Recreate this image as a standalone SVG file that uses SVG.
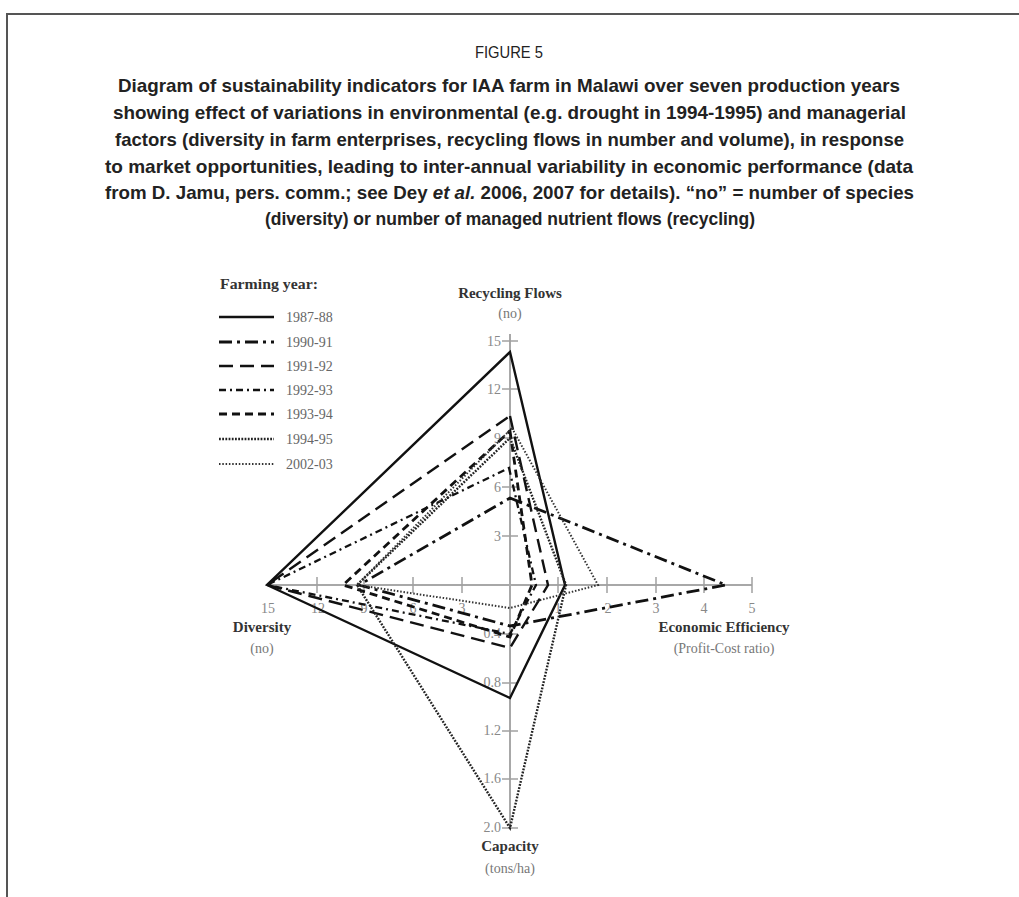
<svg xmlns="http://www.w3.org/2000/svg" width="1019" height="897" viewBox="0 0 1019 897">
<style>
.frame{stroke:#555;stroke-width:2;fill:none}
.cap{font-family:"Liberation Sans",Arial,sans-serif;font-size:18.5px;font-weight:bold;fill:#222}
.fig{font-family:"Liberation Sans",Arial,sans-serif;font-size:17px;fill:#222}
.axis{stroke:#a8a8a8;stroke-width:2;fill:none}
.tick{stroke:#a0a0a0;stroke-width:1.5;fill:none}
.tl{font-family:"Liberation Serif","Times New Roman",serif;font-size:14px;fill:#888}
.at{font-family:"Liberation Serif","Times New Roman",serif;font-size:15px;font-weight:bold;fill:#333;text-anchor:middle}
.au{font-family:"Liberation Serif","Times New Roman",serif;font-size:14px;fill:#777;text-anchor:middle}
.lg{font-family:"Liberation Serif","Times New Roman",serif;font-size:14px;fill:#666}
.lgt{font-family:"Liberation Serif","Times New Roman",serif;font-size:15px;font-weight:bold;fill:#333}
.s{fill:none;stroke:#111;stroke-linejoin:miter}
.y8788{stroke-width:2.4}
.y9091{stroke-width:2.8;stroke-dasharray:13 5 3 5}
.y9192{stroke-width:2.4;stroke-dasharray:14 7}
.y9293{stroke-width:2.3;stroke-dasharray:7 4 2 4}
.y9394{stroke-width:2.8;stroke-dasharray:8 5}
.y9495{stroke-width:2.4;stroke-dasharray:1.8 1.4;stroke:#222}
.y0203{stroke-width:2;stroke-dasharray:1.5 1.8;stroke:#333}
</style>
<g id="frame">
<line class="frame" x1="6" y1="14" x2="1019" y2="14"/>
<line class="frame" x1="7" y1="13" x2="7" y2="897"/>
</g>
<g id="caption">
<text class="fig" x="475" y="58" textLength="68" lengthAdjust="spacingAndGlyphs">FIGURE 5</text>
<text class="cap" x="118" y="92" textLength="782" lengthAdjust="spacingAndGlyphs">Diagram of sustainability indicators for IAA farm in Malawi over seven production years</text>
<text class="cap" x="113" y="119" textLength="793" lengthAdjust="spacingAndGlyphs">showing effect of variations in environmental (e.g. drought in 1994-1995) and managerial</text>
<text class="cap" x="115" y="146" textLength="789" lengthAdjust="spacingAndGlyphs">factors (diversity in farm enterprises, recycling flows in number and volume), in response</text>
<text class="cap" x="105" y="173" textLength="808" lengthAdjust="spacingAndGlyphs">to market opportunities, leading to inter-annual variability in economic performance (data</text>
<text class="cap" x="105" y="199" textLength="809" lengthAdjust="spacingAndGlyphs">from D. Jamu, pers. comm.; see Dey <tspan font-style="italic">et al.</tspan> 2006, 2007 for details). “no” = number of species</text>
<text class="cap" x="265" y="225" textLength="490" lengthAdjust="spacingAndGlyphs">(diversity) or number of managed nutrient flows (recycling)</text>
</g>
<g id="axes">
<line class="axis" x1="510" y1="334" x2="510" y2="828"/>
<line class="axis" x1="267" y1="585" x2="752" y2="585"/>
<g class="tick">
<line x1="502" y1="341" x2="518" y2="341"/>
<line x1="502" y1="389" x2="518" y2="389"/>
<line x1="502" y1="438" x2="518" y2="438"/>
<line x1="502" y1="487" x2="518" y2="487"/>
<line x1="502" y1="536" x2="518" y2="536"/>
<line x1="317" y1="577" x2="317" y2="593"/>
<line x1="364" y1="577" x2="364" y2="593"/>
<line x1="413" y1="577" x2="413" y2="593"/>
<line x1="462" y1="577" x2="462" y2="593"/>
<line x1="558" y1="577" x2="558" y2="593"/>
<line x1="607" y1="577" x2="607" y2="593"/>
<line x1="656" y1="577" x2="656" y2="593"/>
<line x1="704" y1="577" x2="704" y2="593"/>
<line x1="752" y1="577" x2="752" y2="593"/>
<line x1="502" y1="634" x2="518" y2="634"/>
<line x1="502" y1="683" x2="518" y2="683"/>
<line x1="502" y1="731" x2="518" y2="731"/>
<line x1="502" y1="779" x2="518" y2="779"/>
<line x1="502" y1="828" x2="518" y2="828"/>
</g>
<g class="tl" text-anchor="end">
<text x="501" y="346">15</text>
<text x="501" y="394">12</text>
<text x="501" y="443">9</text>
<text x="501" y="492">6</text>
<text x="501" y="541">3</text>
<text x="501" y="638">0.4</text>
<text x="501" y="687">0.8</text>
<text x="501" y="735">1.2</text>
<text x="501" y="783">1.6</text>
<text x="501" y="832">2.0</text>
</g>
<g class="tl" text-anchor="middle">
<text x="268" y="613">15</text>
<text x="318" y="613">12</text>
<text x="364" y="613">9</text>
<text x="413" y="613">6</text>
<text x="462" y="613">3</text>
<text x="558" y="613">1</text>
<text x="608" y="613">2</text>
<text x="656" y="613">3</text>
<text x="704" y="613">4</text>
<text x="752" y="613">5</text>
</g>
</g>
<g id="axis-titles">
<text class="at" x="510" y="298">Recycling Flows</text>
<text class="au" x="510" y="318">(no)</text>
<text class="at" x="262" y="632">Diversity</text>
<text class="au" x="262" y="653">(no)</text>
<text class="at" x="724" y="632">Economic Efficiency</text>
<text class="au" x="724" y="653">(Profit-Cost ratio)</text>
<text class="at" x="510" y="851">Capacity</text>
<text class="au" x="510" y="873">(tons/ha)</text>
</g>
<g id="series">
<polygon id="s8788" class="s y8788" points="510,352 565,585 510,698 267,585"/>
<polygon id="s9091" class="s y9091" points="510,498 726,585 510,626 359,585"/>
<polygon id="s9192" class="s y9192" points="510,416 548,585 510,648 267,585"/>
<polygon id="s9293" class="s y9293" points="509,468 536,585 510,634 267,585"/>
<polygon id="s9394" class="s y9394" points="510,431 532,585 510,637 343,585"/>
<polygon id="s9495" class="s y9495" points="510,438 566,585 510,828 357,585"/>
<polygon id="s0203" class="s y0203" points="512,428 598,585 510,608 357,585"/>
</g>
<g id="legend">
<text class="lgt" x="220" y="289" textLength="98" lengthAdjust="spacingAndGlyphs">Farming year:</text>
<line class="s y8788" x1="219" y1="317" x2="274" y2="317"/>
<text class="lg" x="286" y="322">1987-88</text>
<line class="s y9091" x1="219" y1="342" x2="274" y2="342"/>
<text class="lg" x="286" y="347">1990-91</text>
<line class="s y9192" x1="219" y1="366" x2="274" y2="366"/>
<text class="lg" x="286" y="371">1991-92</text>
<line class="s y9293" x1="219" y1="390" x2="274" y2="390"/>
<text class="lg" x="286" y="395">1992-93</text>
<line class="s y9394" x1="219" y1="414" x2="274" y2="414"/>
<text class="lg" x="286" y="419">1993-94</text>
<line class="s y9495" x1="219" y1="439" x2="274" y2="439"/>
<text class="lg" x="286" y="444">1994-95</text>
<line class="s y0203" x1="219" y1="464" x2="274" y2="464"/>
<text class="lg" x="286" y="469">2002-03</text>
</g>
</svg>
